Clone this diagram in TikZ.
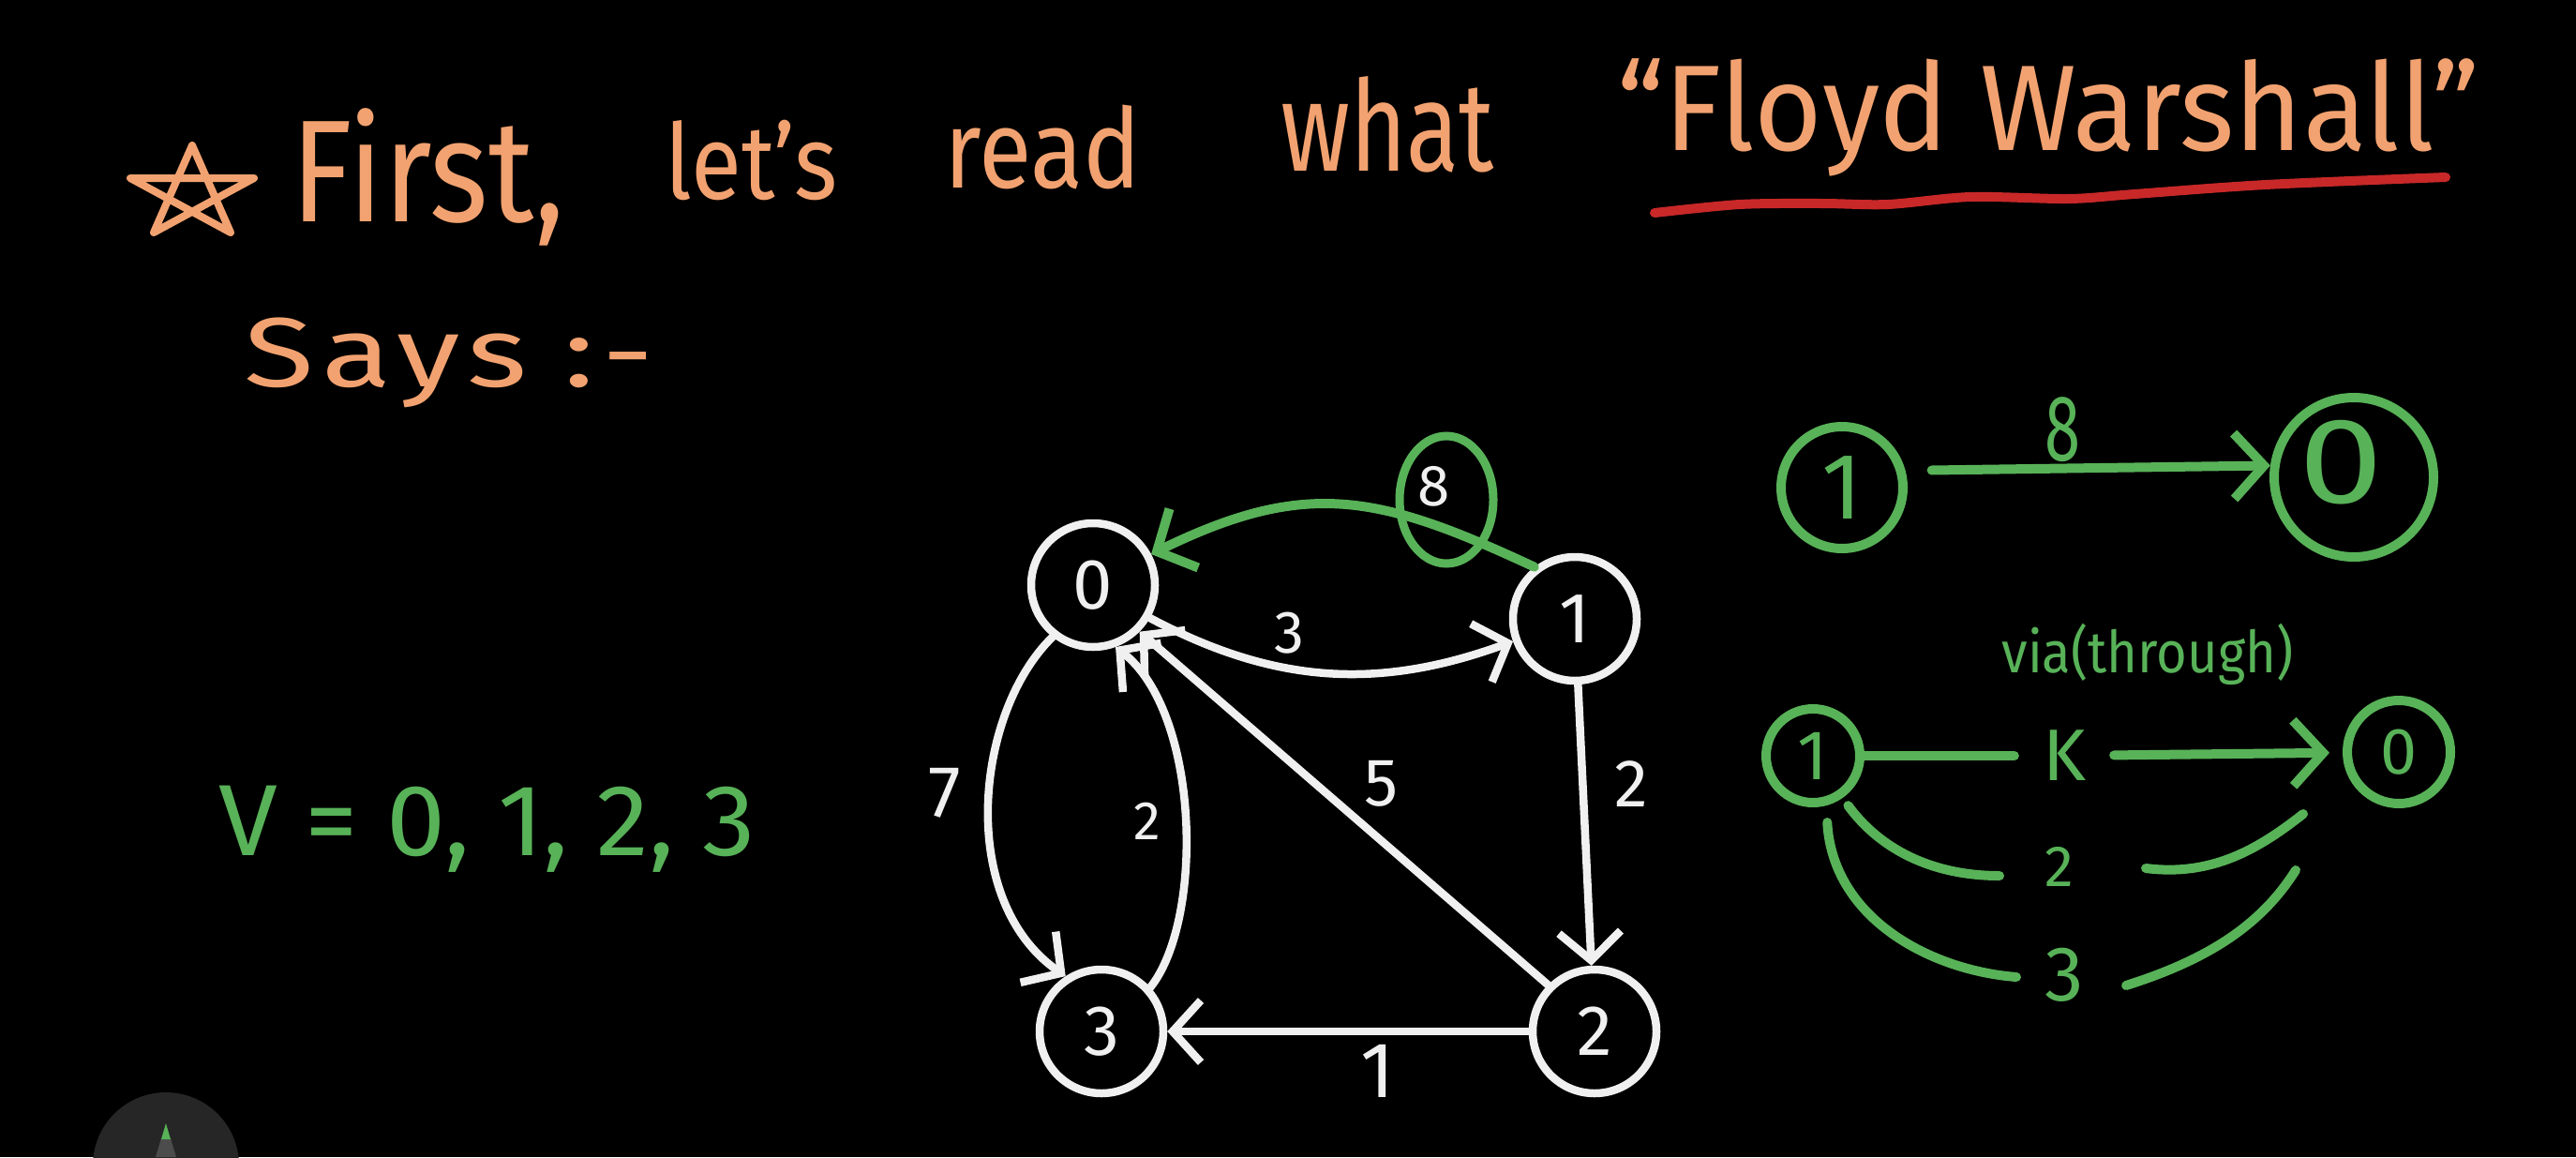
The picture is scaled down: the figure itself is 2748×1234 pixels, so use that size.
\documentclass[tikz,border=0pt]{standalone}
\usepackage{fontspec}
\setmainfont{Fira Sans}
\usepackage{graphicx}
\usetikzlibrary{arrows.meta,shapes.geometric}
\definecolor{hworange}{RGB}{242,162,112}
\definecolor{hwgreen}{RGB}{88,178,88}
\definecolor{hwwhite}{RGB}{240,240,240}
\definecolor{hwred}{RGB}{200,40,40}
\newcommand{\hwt}[3]{\resizebox{#1pt}{\height}{\fontsize{#2pt}{#2pt}\selectfont #3}}
\begin{document}
\begin{tikzpicture}[x=1pt,y=1pt,
  wline/.style={draw=hwwhite, line width=8.5pt, line cap=round, line join=round},
  warr/.style={wline, -{Straight Barb[length=30pt,width=66pt]}},
  gline/.style={draw=hwgreen, line width=10pt, line cap=round, line join=round},
  garr/.style={gline, -{Straight Barb[length=32pt,width=70pt]}},
  vtx/.style={circle, draw=hwwhite, line width=8.5pt, minimum size=132pt, inner sep=0pt, text=hwwhite, font=\fontsize{76pt}{76pt}\selectfont},
  gvtx/.style={circle, draw=hwgreen, line width=10pt, inner sep=0pt, text=hwgreen},
  wlab/.style={text=hwwhite, inner sep=0pt},
  glab/.style={text=hwgreen, inner sep=0pt},
  htxt/.style={text=hworange, inner sep=0pt, anchor=base west},
  gtxt/.style={text=hwgreen, inner sep=0pt, anchor=base west}]
\clip (0,0) rectangle (2748,-1234);
\fill[black] (0,0) rectangle (2748,-1234);

% header
\draw[hworange, line width=8pt, line join=round, line cap=round]
  (205,-155) -- (164,-248) -- (271,-190) -- (139,-190) -- (246,-248) -- cycle;
\node[htxt] (w1) at (310,-236) {\hwt{292}{155}{First,}};
\node[htxt] (w2) at (709,-212) {\hwt{184}{112}{let's}};
\node[htxt] (w3) at (1007,-200) {\hwt{210}{118}{read}};
\node[htxt] (w4) at (1366,-182) {\hwt{228}{135}{what}};
\node[htxt] (w5) at (1725,-160) {\hwt{920}{130}{“Floyd Warshall”}};
\draw[hwred, line width=10pt, line cap=round] plot[smooth] coordinates
  {(1765,-227) (1856,-218) (1944,-217) (2014,-218) (2102,-210) (2207,-212) (2277,-207) (2417,-197) (2609,-189)};
\node[htxt] (w6) at (260,-412) {\hwt{438}{105}{\addfontfeature{LetterSpace=6}Says\hspace{30pt}:-}};
\node[gtxt] (vset) at (233,-912) {\hwt{573}{108}{V = 0, 1, 2, 3}};

% graph
\node[vtx] (n0) at (1166,-624) {0};
\node[vtx] (n1) at (1680,-660) {1};
\node[vtx] (n2) at (1701,-1100) {2};
\node[vtx] (n3) at (1175,-1100) {3};

\draw[warr] (n0.-30) to[out=-28,in=200] (n1.200);
\draw[garr] (n1.128) to[out=155,in=26,looseness=1.15] (n0.28);
\draw[warr] (n0.232) .. controls (1040,-760) and (1020,-960) .. (n3.123);
\draw[warr] (n3.42) .. controls (1285,-980) and (1280,-760) .. (n0.-70);
\draw[warr] (n2.135) -- (n0.-45);
\draw[warr] (n1) -- (n2);
\draw[warr] (n2) -- (n3);

\node[wlab, font=\fontsize{64pt}{64pt}\selectfont] (l3) at (1375,-675) {3};
\node[draw=hwgreen, line width=9pt, ellipse, minimum width=100pt, minimum height=136pt, inner sep=0pt] (c8) at (1543,-533) {};
\node[wlab, font=\fontsize{62pt}{62pt}\selectfont] (l8) at (1530,-519) {8};
\node[wlab, font=\fontsize{78pt}{78pt}\selectfont] (l7) at (1008,-846) {7};
\node[wlab, font=\fontsize{58pt}{58pt}\selectfont] (l2a) at (1224,-876) {2};
\node[wlab, font=\fontsize{72pt}{72pt}\selectfont] (l5) at (1474,-836) {5};
\node[wlab, font=\fontsize{72pt}{72pt}\selectfont] (l2b) at (1740,-836) {2};
\node[wlab, font=\fontsize{84pt}{84pt}\selectfont] (l1) at (1470,-1142) {1};

% right side
\node[gvtx, minimum size=130pt, font=\fontsize{100pt}{100pt}\selectfont] (g1) at (1965,-520) {1};
\node[gvtx, minimum size=170pt] (g0) at (2511,-509) {};
\node[glab] (g0d) at (2497,-493) {\hwt{90}{130}{0}};
\draw[garr, shorten <=28pt] (g1.15) -- (g0.172)
  node[glab, above, pos=0.43, inner sep=2pt] (l8g) {\hwt{38}{100}{8}};

\node[glab] (via) at (2291,-698) {\hwt{311}{62}{via(through)}};

\node[gvtx, minimum size=100pt, font=\fontsize{75pt}{75pt}\selectfont] (h1) at (1934,-806) {1};
\node[gvtx, minimum size=110pt, font=\fontsize{70pt}{70pt}\selectfont] (h0) at (2559,-802) {0};
\node[glab, inner sep=30pt, font=\fontsize{78pt}{78pt}\selectfont] (K) at (2202,-806) {K};
\draw[gline] (h1) -- (K);
\draw[garr, shorten >=14pt] (K) -- (h0);

\node[glab, font=\fontsize{62pt}{62pt}\selectfont] (two) at (2197,-924) {2};
\node[glab, font=\fontsize{83pt}{83pt}\selectfont] (three) at (2202,-1040) {3};
\coordinate (a2) at (2133,-934);
\coordinate (b2) at (2289,-926);
\coordinate (c2) at (2457,-868);
\coordinate (a3) at (2151,-1042);
\coordinate (b3) at (2268,-1051);
\coordinate (c3) at (2449,-928);
\draw[gline, shorten <=10pt] (h1.-55) .. controls (2005,-905) and (2060,-934) .. (a2);
\draw[gline] (b2) .. controls (2360,-935) and (2410,-905) .. (c2);
\draw[gline, shorten <=18pt] (h1.-75) .. controls (1955,-980) and (2060,-1035) .. (a3);
\draw[gline] (b3) .. controls (2350,-1025) and (2410,-990) .. (c3);

% pencil tool
\fill[black!85!white] (177,-1243) circle (78pt);
\fill[black!70!white] (166,-1234) -- (172,-1214) -- (182,-1214) -- (188,-1234) -- cycle;
\fill[hwgreen] (172,-1215) -- (177,-1198) -- (182,-1215) -- cycle;
\end{tikzpicture}
\end{document}
